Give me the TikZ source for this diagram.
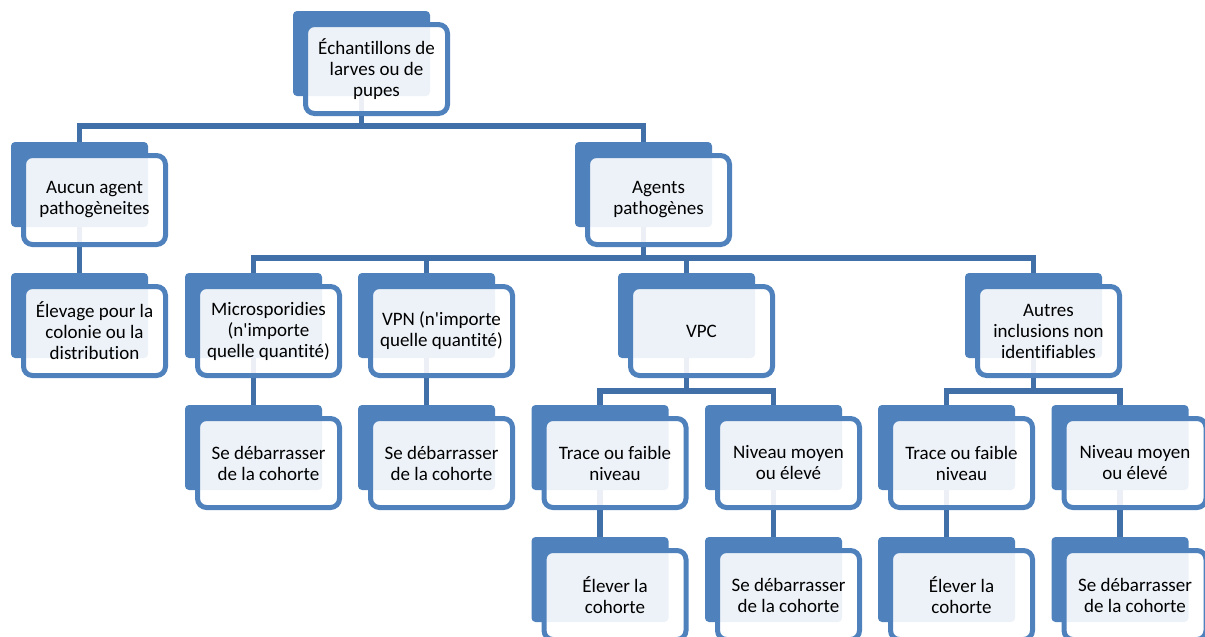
\documentclass[tikz,border=0pt]{standalone}
\usepackage{fontspec}
\setmainfont{Carlito}[Ligatures={NoCommon}]
\usetikzlibrary{positioning}

\definecolor{backblue}{HTML}{4F81BD}
\definecolor{lineblue}{HTML}{416FA8}

\tikzset{
  back/.style={rectangle, rounded corners=4pt, fill=backblue, minimum width=137pt, minimum height=85pt, inner sep=0pt},
  front/.style={rectangle, rounded corners=9pt, draw=backblue, line width=5pt, fill=white, fill opacity=0.9, text opacity=1,
    minimum width=142pt, minimum height=89pt, inner sep=0pt, align=center, font=\fontsize{19}{21}\selectfont,
    xshift=15pt, yshift=-15.5pt},
  conn/.style={draw=lineblue, line width=5.5pt}
}

\begin{document}
\begin{tikzpicture}[x=1pt,y=-1pt]
\useasboundingbox (0,0) rectangle (1205,637);

% back boxes
\node[back] (ech) at (361.5,53.5) {};
\node[back] (aucun) at (79.5,184.5) {};
\node[back] (agents) at (643.5,184.5) {};
\node[back] (elev) at (79.5,315.5) {};
\node[back] (micro) at (253.5,315.5) {};
\node[back] (vpn) at (426.5,315.5) {};
\node[back] (vpc) at (686.5,315.5) {};
\node[back] (autres) at (1033.5,315.5) {};
\node[back] (deb1) at (253.5,447.5) {};
\node[back] (deb2) at (426.5,447.5) {};
\node[back] (trace1) at (600,447.5) {};
\node[back] (niv1) at (773.5,447.5) {};
\node[back] (trace2) at (946.5,447.5) {};
\node[back] (niv2) at (1120,447.5) {};
\node[back] (elev1) at (600,579.5) {};
\node[back] (deb3) at (773.5,579.5) {};
\node[back] (elev2) at (946.5,579.5) {};
\node[back] (deb4) at (1120,579.5) {};

% connectors
\coordinate (bus1) at (361.5,126);
\coordinate (bus2) at (643.5,258);
\coordinate (bus3) at (686.5,391);
\coordinate (bus4) at (1033.5,391);
\draw[conn] (ech.south) -- (bus1);
\draw[conn] (bus1) -| (aucun.north);
\draw[conn] (bus1) -| (agents.north);
\draw[conn] (aucun.south) -- (elev.north);
\draw[conn] (agents.south) -- (bus2);
\draw[conn] (bus2) -| (micro.north);
\draw[conn] (bus2) -| (vpn.north);
\draw[conn] (bus2) -| (vpc.north);
\draw[conn] (bus2) -| (autres.north);
\draw[conn] (micro.south) -- (deb1.north);
\draw[conn] (vpn.south) -- (deb2.north);
\draw[conn] (vpc.south) -- (bus3);
\draw[conn] (bus3) -| (trace1.north);
\draw[conn] (bus3) -| (niv1.north);
\draw[conn] (autres.south) -- (bus4);
\draw[conn] (bus4) -| (trace2.north);
\draw[conn] (bus4) -| (niv2.north);
\draw[conn] (trace1.south) -- (elev1.north);
\draw[conn] (niv1.south) -- (deb3.north);
\draw[conn] (trace2.south) -- (elev2.north);
\draw[conn] (niv2.south) -- (deb4.north);

% front boxes with text
\node[front] (ech-t) at (ech) {Échantillons de\\larves ou de\\pupes};
\node[front] (aucun-t) at (aucun) {Aucun agent\\pathogèneites};
\node[front] (agents-t) at (agents) {Agents\\pathogènes};
\node[front] (elev-t) at (elev) {Élevage pour la\\colonie ou la\\distribution};
\node[front] (micro-t) at (micro) {Microsporidies\\(n\textquotesingle importe\\quelle quantité)};
\node[front] (vpn-t) at (vpn) {VPN (n\textquotesingle importe\\quelle quantité)};
\node[front] (vpc-t) at (vpc) {VPC};
\node[front] (autres-t) at (autres) {Autres\\inclusions non\\identifiables};
\node[front] (deb1-t) at (deb1) {Se débarrasser\\de la cohorte};
\node[front] (deb2-t) at (deb2) {Se débarrasser\\de la cohorte};
\node[front] (trace1-t) at (trace1) {Trace ou faible\\niveau};
\node[front] (niv1-t) at (niv1) {Niveau moyen\\ou élevé};
\node[front] (trace2-t) at (trace2) {Trace ou faible\\niveau};
\node[front] (niv2-t) at (niv2) {Niveau moyen\\ou élevé};
\node[front] (elev1-t) at (elev1) {Élever la\\cohorte};
\node[front] (deb3-t) at (deb3) {Se débarrasser\\de la cohorte};
\node[front] (elev2-t) at (elev2) {Élever la\\cohorte};
\node[front] (deb4-t) at (deb4) {Se débarrasser\\de la cohorte};

\end{tikzpicture}
\end{document}
